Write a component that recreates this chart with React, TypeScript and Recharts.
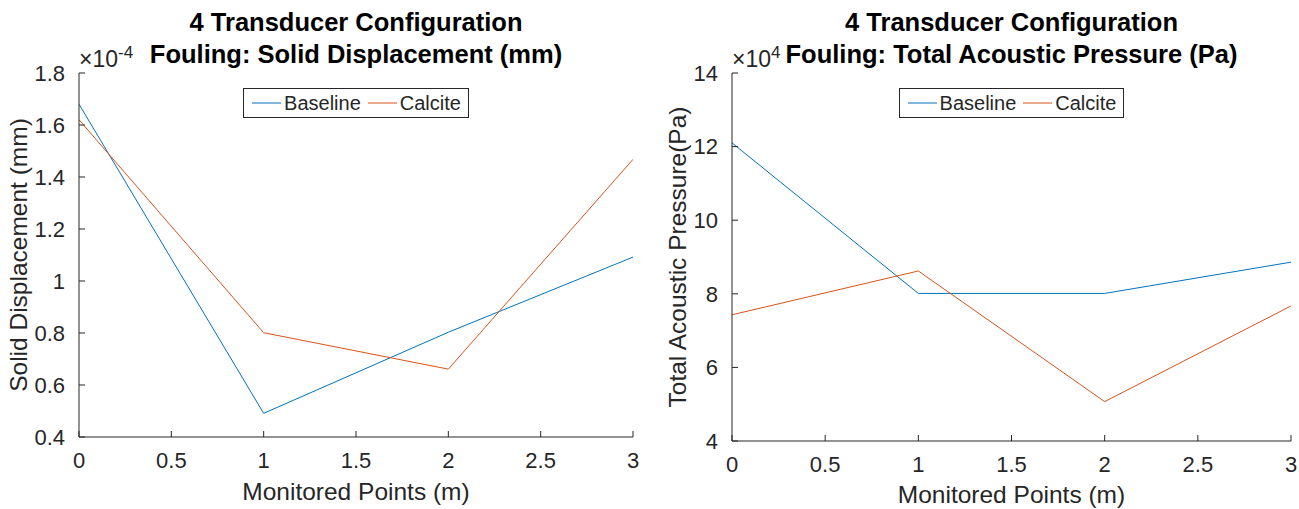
import React from 'react';
import { LineChart, Line, XAxis, YAxis, Legend } from 'recharts';

// ---- data ----
const monitoredPoints = [0, 1, 2, 3];
const xTicks = [0, 0.5, 1, 1.5, 2, 2.5, 3];

// Solid displacement (mm)
const dispBaseline = [1.68e-4, 0.491e-4, 0.803e-4, 1.092e-4];
const dispCalcite = [1.62e-4, 0.801e-4, 0.661e-4, 1.468e-4];
const dispTickLabels = [0.4, 0.6, 0.8, 1, 1.2, 1.4, 1.6, 1.8];
const dispExponent = -4;

// Total acoustic pressure (Pa)
const presBaseline = [12.1e4, 8.01e4, 8.01e4, 8.86e4];
const presCalcite = [7.43e4, 8.62e4, 5.07e4, 7.67e4];
const presTickLabels = [4, 6, 8, 10, 12, 14];
const presExponent = 4;

const seriesNames = ['Baseline', 'Calcite'];
const seriesColors = ['#0072BD', '#D95319'];

const FONT = '"Liberation Sans", Arial, Helvetica, sans-serif';
const AXIS = '#262626';
const TEXT = '#262626';

const renderLegend = (props: any) => {
  const payload = props.payload || [];
  return (
    <div style={{ display: 'flex', justifyContent: 'center' }}>
      <div
        style={{
          display: 'inline-flex',
          alignItems: 'center',
          border: `1px solid ${AXIS}`,
          background: '#fff',
          height: 30,
          padding: '0 7px 0 8px',
          fontFamily: FONT,
          fontSize: 20,
          color: TEXT,
          boxSizing: 'border-box',
        }}
      >
        {payload.map((p: any, i: number) => (
          <div key={i} style={{ display: 'flex', alignItems: 'center', marginRight: i < payload.length - 1 ? 7 : 0 }}>
            <svg width={29} height={4} style={{ display: 'block' }}>
              <line x1={0} y1={2} x2={29} y2={2} stroke={p.color} strokeWidth={1} />
            </svg>
            <span style={{ marginLeft: 3, lineHeight: '20px' }}>{p.value}</span>
          </div>
        ))}
      </div>
    </div>
  );
};

type PanelProps = {
  width: number;
  baseline: number[];
  calcite: number[];
  tickLabels: number[];
  exponent: number;
  margin: { top: number; right: number; bottom: number; left: number };
};

const Panel = ({ width, baseline, calcite, tickLabels, exponent, margin }: PanelProps) => {
  const scale = Math.pow(10, exponent);
  const data = monitoredPoints.map((x, i) => ({ x, baseline: baseline[i], calcite: calcite[i] }));
  const yTicks = tickLabels.map((t) => t * scale);
  const yDomain = [yTicks[0], yTicks[yTicks.length - 1]];
  const fmt = (v: number) => String(Number((v / scale).toFixed(2)));
  const plotWidth = width - margin.left - margin.right - 60;
  return (
    <LineChart width={width} height={509} data={data} margin={margin}>
      <XAxis
        dataKey="x"
        type="number"
        domain={[0, 3]}
        ticks={xTicks}
        interval={0}
        allowDataOverflow
        height={30}
        stroke={AXIS}
        tickSize={-6}
        tickMargin={21}
        tick={{ fill: TEXT, fontSize: 22, fontFamily: FONT }}
      />
      <XAxis
        xAxisId="top"
        orientation="top"
        type="number"
        domain={[0, 3]}
        ticks={xTicks}
        interval={0}
        allowDataOverflow
        height={0}
        stroke={AXIS}
        tickSize={-6}
        tick={false}
      />
      <YAxis
        type="number"
        domain={yDomain}
        ticks={yTicks}
        interval={0}
        allowDataOverflow
        width={60}
        stroke={AXIS}
        tickSize={-6}
        tickMargin={20}
        tickFormatter={fmt}
        tick={{ fill: TEXT, fontSize: 22, fontFamily: FONT }}
      />
      <YAxis
        yAxisId="right"
        orientation="right"
        type="number"
        domain={yDomain}
        ticks={yTicks}
        interval={0}
        allowDataOverflow
        width={0}
        stroke={AXIS}
        tickSize={-6}
        tick={false}
      />
      <Legend
        layout="vertical"
        align="center"
        verticalAlign="middle"
        content={renderLegend}
        wrapperStyle={{ top: 88, left: margin.left + 60, width: plotWidth, bottom: 'auto', right: 'auto' }}
      />
      <Line
        dataKey="baseline"
        name={seriesNames[0]}
        stroke={seriesColors[0]}
        strokeWidth={1}
        dot={false}
        activeDot={false}
        isAnimationActive={false}
      />
      <Line
        dataKey="calcite"
        name={seriesNames[1]}
        stroke={seriesColors[1]}
        strokeWidth={1}
        dot={false}
        activeDot={false}
        isAnimationActive={false}
      />
    </LineChart>
  );
};

export default function App() {
  const leftCx = (79 + 633) / 2;
  const rightCx = (732 + 1291) / 2;
  return (
    <div style={{ position: 'absolute', left: 0, top: 0, width: 1299, height: 509, background: '#fff', overflow: 'hidden' }}>
      <div style={{ position: 'absolute', left: 0, top: 0 }}>
        <Panel
          width={650}
          baseline={dispBaseline}
          calcite={dispCalcite}
          tickLabels={dispTickLabels}
          exponent={dispExponent}
          margin={{ top: 73, right: 17, bottom: 42, left: 19 }}
        />
      </div>
      <div style={{ position: 'absolute', left: 650, top: 0 }}>
        <Panel
          width={649}
          baseline={presBaseline}
          calcite={presCalcite}
          tickLabels={presTickLabels}
          exponent={presExponent}
          margin={{ top: 73, right: 8, bottom: 38, left: 22 }}
        />
      </div>
      <svg
        width={1299}
        height={509}
        style={{ position: 'absolute', left: 0, top: 0, pointerEvents: 'none' }}
        fontFamily={FONT}
      >
        {/* left panel texts */}
        <text x={leftCx} y={31} textAnchor="middle" fontSize={25.5} fontWeight="bold" fill="#000">
          4 Transducer Configuration
        </text>
        <text x={leftCx} y={63} textAnchor="middle" fontSize={25.5} fontWeight="bold" fill="#000">
          Fouling: Solid Displacement (mm)
        </text>
        <text x={79} y={67} fontSize={23} fill={TEXT}>
          ×10<tspan dy={-9} fontSize={17}>{String(dispExponent)}</tspan>
        </text>
        <text transform={`translate(27,255) rotate(-90)`} textAnchor="middle" fontSize={24.5} fill={TEXT}>
          Solid Displacement (mm)
        </text>
        <text x={leftCx} y={500} textAnchor="middle" fontSize={24.5} fill={TEXT}>
          Monitored Points (m)
        </text>

        {/* right panel texts */}
        <text x={rightCx} y={31} textAnchor="middle" fontSize={25.5} fontWeight="bold" fill="#000">
          4 Transducer Configuration
        </text>
        <text x={rightCx} y={63} textAnchor="middle" fontSize={25.5} fontWeight="bold" fill="#000">
          Fouling: Total Acoustic Pressure (Pa)
        </text>
        <text x={732} y={67} fontSize={23} fill={TEXT}>
          ×10<tspan dy={-9} fontSize={17}>{String(presExponent)}</tspan>
        </text>
        <text transform={`translate(686,257) rotate(-90)`} textAnchor="middle" fontSize={24.5} fill={TEXT}>
          Total Acoustic Pressure(Pa)
        </text>
        <text x={rightCx} y={503} textAnchor="middle" fontSize={24.5} fill={TEXT}>
          Monitored Points (m)
        </text>
      </svg>
    </div>
  );
}
